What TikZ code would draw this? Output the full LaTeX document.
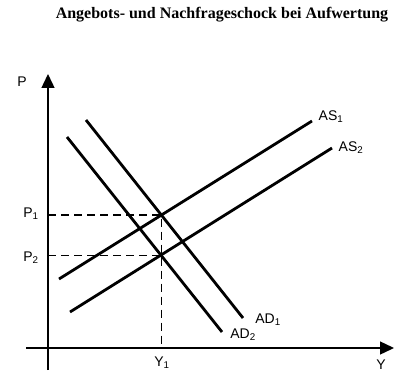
\documentclass[tikz,border=0pt]{standalone}
\usepackage{fontspec}
\setmainfont{Liberation Serif}
\setsansfont{Liberation Sans}
\usetikzlibrary{arrows.meta,intersections}
\begin{document}
\begin{tikzpicture}[x=1pt,y=-1pt,
    curve/.style={line width=2.8pt},
    axis/.style={line width=1.4pt,-{Triangle[width=13pt,length=14pt]}},
    guide/.style={line width=1.2pt,dash pattern=on 8pt off 5pt},
    lbl/.style={font=\sffamily\fontsize{14}{14}\selectfont,inner sep=1pt}]
    \useasboundingbox (0,0) rectangle (395,374);
    % Titel
    \node[font=\bfseries\fontsize{16}{18}\selectfont] (titel) at (222,15) {Angebots- und Nachfrageschock bei Aufwertung};
    % Achsen
    \coordinate (ursprung) at (48,348);
    \coordinate (ptop) at (48,74);
    \coordinate (yend) at (394,348);
    \draw[axis] (48,370) -- (ptop);
    \draw[axis] (26,348) -- (yend);
    \node[lbl] (p) at (22,82) {P};
    \node[lbl] (y) at (381,365) {Y};
    % Angebot und Nachfrage
    \coordinate (as1a) at (59,279);  \coordinate (as1b) at (312,121);
    \coordinate (as2a) at (70,312);  \coordinate (as2b) at (332,148);
    \coordinate (ad1a) at (86,120);  \coordinate (ad1b) at (243,318);
    \coordinate (ad2a) at (67,137);  \coordinate (ad2b) at (222,332);
    \draw[curve,name path=as1] (as1a) -- (as1b);
    \draw[curve,name path=as2] (as2a) -- (as2b);
    \draw[curve,name path=ad1] (ad1a) -- (ad1b);
    \draw[curve,name path=ad2] (ad2a) -- (ad2b);
    \node[lbl] (as1) at (331,117) {AS\textsubscript{1}};
    \node[lbl] (as2) at (351,148) {AS\textsubscript{2}};
    \node[lbl] (ad1) at (268,320) {AD\textsubscript{1}};
    \node[lbl] (ad2) at (243,335) {AD\textsubscript{2}};
    % Gleichgewichte
    \path[name intersections={of=as1 and ad1,by=e1}];
    \path[name intersections={of=as2 and ad2,by=e2}];
    \draw[guide] (e1 -| ursprung) -- (e1) -- (e1 |- ursprung);
    \draw[guide] (e2 -| ursprung) -- (e2);
    \node[lbl] (p1) at (31,214) {P\textsubscript{1}};
    \node[lbl] (p2) at (31,258) {P\textsubscript{2}};
    \node[lbl] (y1) at (162,363) {Y\textsubscript{1}};
\end{tikzpicture}
\end{document}
